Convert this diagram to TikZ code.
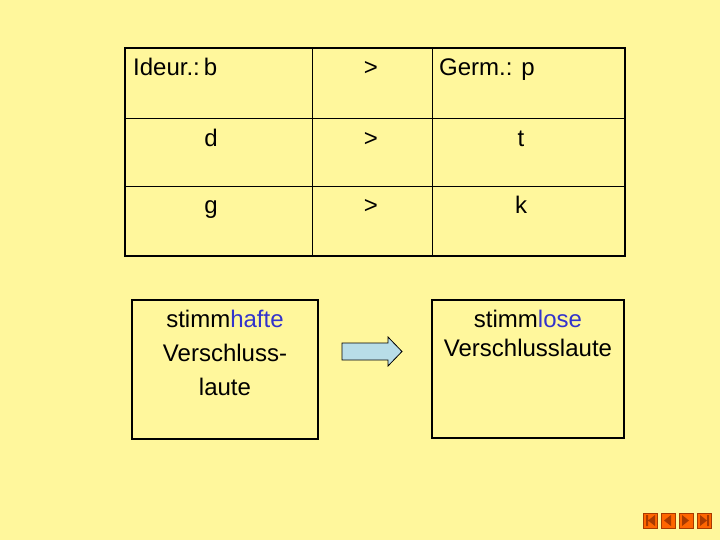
\documentclass[tikz,border=0pt]{standalone}
\usepackage{fontspec}
\setmainfont{Liberation Sans}
\definecolor{bg}{HTML}{FFF79C}
\definecolor{arrowfill}{HTML}{B8DDE8}
\definecolor{blu}{HTML}{3333CC}
\definecolor{navfill}{HTML}{FF6600}
\definecolor{navdark}{HTML}{A83A00}
\begin{document}
\begin{tikzpicture}[x=1pt,y=-1pt,
  txt/.style={font=\fontsize{24}{28}\selectfont,inner sep=0pt,anchor=base},
  frame/.style={draw=black,line width=1.5pt},
  nav/.style={fill=navfill,draw=navdark,line width=1pt}]
\fill[bg] (0,0) rectangle (720,540);
\useasboundingbox (0,0) rectangle (720,540);
% table
\draw[frame] (125,48) rectangle (625,256);
\draw[line width=0.8pt] (312,48) -- (312,256) (432,48) -- (432,256)
  (125,118) -- (625,118) (125,186) -- (625,186);
\node[txt,anchor=base west] (a1) at (133,76) {Ideur.:\,b};
\node[txt] (a2) at (371,76) {>};
\node[txt,anchor=base west] (a3) at (439,76) {Germ.: p};
\node[txt] (b1) at (211,147) {d};
\node[txt] (b2) at (371,147) {>};
\node[txt] (b3) at (521,147) {t};
\node[txt] (c1) at (211,214) {g};
\node[txt] (c2) at (371,214) {>};
\node[txt] (c3) at (521,214) {k};
% boxes
\draw[frame] (132,300) rectangle (318,439);
\node[txt] (l1) at (225,327) {stimm\textcolor{blu}{hafte}};
\node[txt] (l2) at (225,361) {Verschluss-};
\node[txt] (l3) at (225,395) {laute};
\draw[frame] (432,300) rectangle (624,438);
\node[txt] (r1) at (528,327) {stimm\textcolor{blu}{lose}};
\node[txt] (r2) at (528,356) {Verschlusslaute};
% arrow
\draw[fill=arrowfill,line width=0.8pt] (342,343) -- (388,343) -- (388,337) -- (402,351.5)
  -- (388,366) -- (388,360) -- (342,360) -- cycle;
% nav buttons
\foreach \x in {643,661,679,697} \draw[nav] (\x,513) rectangle ++(14,15);
\fill[navdark] (646,515) rectangle (648,526) (655,515) -- (648,520.5) -- (655,526) -- cycle;
\fill[navdark] (671,515) -- (664,520.5) -- (671,526) -- cycle;
\fill[navdark] (682,515) -- (689,520.5) -- (682,526) -- cycle;
\fill[navdark] (700,515) -- (707,520.5) -- (700,526) -- cycle (707,515) rectangle (709,526);
\end{tikzpicture}
\end{document}
